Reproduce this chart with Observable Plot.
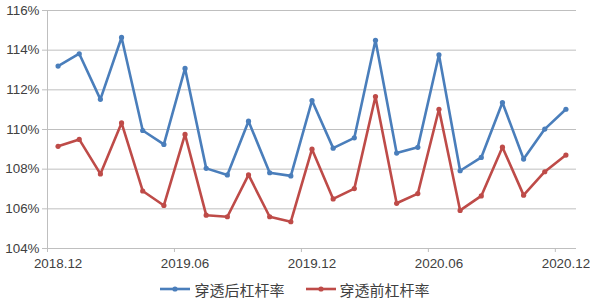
<!DOCTYPE html>
<html>
<head>
<meta charset="utf-8">
<script src="https://cdn.jsdelivr.net/npm/d3@7"></script>
<script src="https://cdn.jsdelivr.net/npm/@observablehq/plot@0.6"></script>
<style>
  html, body { margin: 0; padding: 0; background: #fff; }
  #chart { width: 590px; }
  .legend { display: flex; justify-content: center; align-items: center; gap: 21px; font-family: "Noto Sans CJK SC", sans-serif; font-size: 15px; color: #404040; height: 22px; margin-left: 0px; }
  .item { display: flex; align-items: center; gap: 4px; }
</style>
</head>
<body>
<div id="chart"></div>
<script>
const months = ["2018.12","2019.01","2019.02","2019.03","2019.04","2019.05","2019.06","2019.07","2019.08","2019.09","2019.10","2019.11","2019.12","2020.01","2020.02","2020.03","2020.04","2020.05","2020.06","2020.07","2020.08","2020.09","2020.10","2020.11","2020.12"];
const afterRate = [113.20,113.82,111.52,114.64,109.95,109.25,113.08,108.04,107.71,110.42,107.82,107.66,111.46,109.06,109.58,114.50,108.81,109.10,113.77,107.92,108.59,111.36,108.51,110.02,111.02];
const beforeRate = [109.15,109.50,107.76,110.33,106.90,106.17,109.75,105.68,105.60,107.71,105.60,105.35,109.01,106.50,107.02,111.66,106.28,106.77,111.02,105.92,106.65,109.11,106.69,107.87,108.71];
const seriesNames = ["穿透后杠杆率","穿透前杠杆率"];
const seriesColors = ["#4A7EBB","#BE4B48"];
const tickLabels = ["2018.12","2019.06","2019.12","2020.06","2020.12"];
const yTicks = [104,106,108,110,112,114,116];

const data = [];
months.forEach((m, i) => {
  data.push({i, month: m, series: seriesNames[0], v: afterRate[i]});
  data.push({i, month: m, series: seriesNames[1], v: beforeRate[i]});
});
const xTicks = tickLabels.map(l => months.indexOf(l));
const xTickMarks = xTicks.map(i => i - 0.5);
const xMin = -0.5, xMax = months.length - 0.5;

const chart = Plot.plot({
  width: 590,
  height: 278,
  marginLeft: 47,
  marginRight: 14,
  marginTop: 10,
  marginBottom: 30,
  style: {fontFamily: "Liberation Sans, Arial, sans-serif", fontSize: "13.4px", color: "#404040", background: "#fff"},
  x: {type: "linear", domain: [xMin, xMax]},
  y: {domain: [104, 116]},
  color: {domain: seriesNames, range: seriesColors},
  marks: [
    Plot.ruleY(yTicks, {stroke: "#bfbfbf", strokeWidth: 1}),
    Plot.ruleX([xMin], {y1: yTicks[0], y2: yTicks[yTicks.length - 1], stroke: "#bfbfbf"}),
    Plot.axisY({ticks: yTicks, tickSize: 5, tickPadding: 3, tickFormat: d => d + "%", stroke: "#bfbfbf", label: null, fill: "#404040"}),
    Plot.axisX({ticks: xTickMarks, tickSize: 4, tickFormat: () => "", stroke: "#bfbfbf", label: null}),
    Plot.axisX({ticks: xTicks, tickSize: 0, tickPadding: 10, tickFormat: i => months[i], label: null, fill: "#404040"}),
    Plot.line(data, {x: "i", y: "v", z: "series", stroke: "series", strokeWidth: 2.6}),
    Plot.dot(data, {x: "i", y: "v", fill: "series", r: 2.6})
  ]
});
document.getElementById("chart").appendChild(chart);

const legend = document.createElement("div");
legend.className = "legend";
seriesNames.forEach((name, k) => {
  const item = document.createElement("div");
  item.className = "item";
  item.innerHTML = `<svg width="30" height="8"><line x1="0" y1="4" x2="30" y2="4" stroke="${seriesColors[k]}" stroke-width="2.6"/><circle cx="15" cy="4" r="2.6" fill="${seriesColors[k]}"/></svg><span>${name}</span>`;
  legend.appendChild(item);
});
document.getElementById("chart").appendChild(legend);
</script>
</body>
</html>
